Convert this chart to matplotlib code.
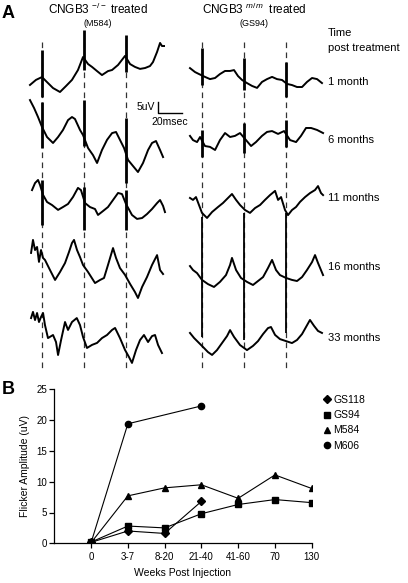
"""
Flicker ERG figure: A - raw traces per time point for two treated animals,
B - flicker amplitude vs weeks post injection.
"""

import matplotlib.pyplot as plt
from matplotlib.lines import Line2D

plt.rcParams["font.family"] = ["Liberation Sans", "DejaVu Sans"]
plt.rcParams["mathtext.fontset"] = "custom"
plt.rcParams["mathtext.rm"] = "Liberation Sans"
plt.rcParams["mathtext.it"] = "Liberation Sans:italic"


# ---------- Panel A data: time (ms) / amplitude (uV, relative to own baseline) ----------
FLICKER_MS = [10, 45, 80]
ROW_LABELS = ["1 month", "6 months", "11 months", "16 months", "33 months"]

# CNGB3 -/- (M584)
L1_T = [0.4, 5.4, 10.4, 14.6, 19.6, 25.4, 30.4, 35.4, 40.4, 44.6, 48.8, 52.1, 56.3, 60.4,
        65.4, 68.8, 73.8, 79.6, 83.8, 87.9, 92.1, 96.3, 100.4, 102.9, 106.3, 108.8, 110.4, 112.1]
L1_V = [-6.8, -4.5, -3.2, -5.5, -8.2, -10.0, -7.3, -4.5, 0.0, 5.9, 2.7, 1.4, -0.5, -2.3,
        -0.5, 0.0, 2.3, 6.4, 2.7, 1.4, 0.5, 0.9, 1.8, 3.6, 8.2, 12.3, 10.9, 10.9]
L6_T = [0.4, 3.8, 7.1, 10.4, 14.6, 19.6, 23.8, 27.9, 32.1, 35.4, 37.9, 42.1, 44.6, 48.8,
        52.9, 56.3, 60.4, 64.6, 68.8, 72.1, 75.4, 78.8, 82.1, 86.3, 90.4, 94.6, 98.8, 102.1,
        105.4, 108.8, 111.3]
L6_V = [13.6, 10.0, 5.9, 1.4, -3.2, -5.9, -3.2, 0.0, 4.5, 5.9, 5.0, 0.0, -2.3, -8.2,
        -11.4, -15.0, -9.1, -4.5, -1.4, -0.9, -4.5, -8.2, -13.6, -16.4, -19.1, -15.0, -9.1, -5.9,
        -5.0, -9.1, -12.3]
L11_T = [2.1, 4.6, 7.1, 8.8, 11.3, 14.6, 18.8, 23.8, 27.9, 32.1, 36.3, 40.4, 42.9, 46.3,
         50.4, 54.6, 57.1, 61.3, 65.4, 69.6, 73.8, 77.1, 80.4, 85.4, 89.6, 93.8, 97.9, 102.1,
         106.3, 108.8, 111.3, 112.9]
L11_V = [4.5, 7.7, 9.1, 6.8, 2.3, -0.9, -2.3, -4.5, -3.2, -1.8, 1.4, 5.5, 4.5, -1.4,
         -3.2, -4.1, -6.8, -5.0, -3.2, 0.0, 3.2, 2.7, -1.8, -6.8, -8.6, -8.2, -6.4, -4.1,
         -1.4, 0.0, -2.7, -5.5]
L16_T = [1.3, 2.9, 4.6, 6.3, 7.9, 9.6, 11.3, 12.9, 17.1, 21.3, 25.4, 29.6, 32.9, 35.4,
         37.1, 39.6, 42.1, 44.6, 48.8, 54.6, 58.8, 62.1, 65.4, 69.6, 72.1, 75.4, 79.6, 83.8,
         87.9, 90.4, 93.8, 97.9, 102.1, 106.3, 108.8, 111.3]
L16_V = [5.5, 11.4, 6.8, 8.2, 1.4, 6.8, 3.2, 2.3, -2.3, -6.8, -3.2, 0.9, 5.9, 10.0,
         11.4, 6.8, 3.6, 0.0, -3.2, -8.2, -6.8, -5.9, 0.0, 7.7, 3.2, -1.4, -4.5, -8.6,
         -12.3, -15.0, -10.0, -5.5, 0.0, 4.5, -2.3, -4.1]
L33_T = [1.3, 2.9, 4.6, 6.3, 7.9, 9.6, 11.3, 12.9, 15.4, 19.6, 22.1, 23.8, 26.3, 29.6,
         32.1, 35.4, 39.4, 42.1, 44.6, 47.9, 52.1, 56.3, 60.4, 64.6, 68.8, 71.3, 75.4, 79.6,
         82.9, 85.4, 88.8, 92.1, 95.4, 98.8, 102.1, 104.6, 107.1, 110.4]
L33_V = [7.7, 10.5, 6.8, 10.0, 5.9, 8.2, 10.0, 4.5, -1.4, 0.0, -3.2, -9.1, -2.3, 5.9,
         2.3, 5.9, 7.7, 4.5, -0.9, -5.9, -4.5, -3.6, -1.4, 0.0, 2.3, 3.2, -1.4, -6.8,
         -10.0, -12.7, -6.8, -2.3, 0.0, -3.2, -0.5, 0.0, -4.5, -8.2]

# CNGB3 m/m (GS94)
R1_T = [0.4, 4.6, 7.9, 12.9, 17.1, 21.3, 25.4, 29.6, 33.8, 37.1, 40.4, 43.8, 47.9, 52.1,
        56.3, 60.4, 64.6, 68.8, 72.9, 77.1, 81.3, 85.4, 89.6, 93.8, 97.9, 102.1, 106.3, 110.4]
R1_V = [4.5, 2.7, 1.8, 0.5, -0.5, 0.0, 1.8, 3.2, 3.2, 3.6, 0.9, -0.9, -2.3, -3.6,
        -4.5, -1.8, -0.5, 0.5, -0.5, -0.9, -2.7, -3.2, -4.1, -4.1, -1.8, 0.0, -0.5, -2.3]
R6_T = [0.4, 2.9, 6.3, 8.8, 12.9, 17.1, 21.3, 25.4, 29.6, 33.8, 37.9, 42.1, 47.1, 51.3,
        55.4, 60.4, 64.6, 68.8, 73.8, 78.8, 83.8, 88.8, 92.9, 97.1, 101.3, 106.3, 111.3]
R6_V = [0.5, -1.4, -2.3, 0.0, -4.1, -4.5, -5.9, -1.4, 1.8, 0.0, 0.5, 1.8, -1.4, -4.1,
        -2.3, 0.5, 2.3, 2.7, 1.4, 2.7, -1.4, -2.3, 0.5, 4.1, 4.1, 3.2, 1.8]
R11_T = [0.4, 2.9, 5.4, 7.9, 10.4, 14.6, 18.8, 23.8, 27.9, 32.1, 35.4, 38.8, 42.1, 46.3,
         50.4, 54.6, 58.8, 62.9, 67.1, 71.3, 73.8, 76.3, 79.6, 82.1, 85.4, 88.8, 92.1, 96.3,
         100.4, 104.6, 107.1, 109.6, 111.3]
R11_V = [2.3, 1.4, 2.7, -0.9, -4.5, -6.8, -4.1, -1.8, 0.0, 2.3, 4.1, 1.4, -0.9, -3.2,
         -4.5, -2.3, -0.9, 1.4, 3.6, 5.5, 1.4, 2.7, -3.2, -5.5, -3.2, -1.8, 0.5, 2.7,
         4.5, 5.9, 7.7, 4.5, 3.6]
R16_T = [0.4, 2.9, 6.3, 10.4, 15.4, 20.4, 25.4, 30.4, 33.8, 35.4, 38.8, 42.9, 47.9, 52.9,
         57.1, 61.3, 65.4, 68.8, 72.1, 75.4, 80.4, 85.4, 89.6, 93.8, 97.9, 102.1, 104.6, 107.1,
         111.3]
R16_V = [2.7, 0.9, -0.5, -3.6, -5.5, -6.8, -4.5, -1.4, 3.2, 6.4, 0.9, -2.7, -4.5, -5.9,
         -4.1, -2.3, 1.8, 5.5, 0.9, -1.4, -2.7, -3.6, -4.1, -2.3, 0.9, 4.5, 7.7, 4.1,
         -1.4]
R33_T = [0.4, 3.8, 7.1, 11.3, 15.4, 18.8, 22.9, 27.1, 31.3, 33.8, 37.1, 42.1, 47.9, 52.9,
         57.1, 61.3, 65.4, 67.9, 71.3, 75.4, 80.4, 85.4, 89.6, 93.8, 97.1, 100.4, 103.8, 107.1,
         110.4]
R33_V = [2.3, 0.0, -1.8, -4.1, -6.4, -7.7, -5.5, -2.3, 0.9, 3.6, 0.5, -3.2, -5.5, -3.6,
         -1.4, 1.8, 4.5, 5.0, 1.4, -0.5, -1.4, -2.3, -0.9, 1.8, 5.0, 8.2, 5.5, 3.2,
         2.3]

# flicker response spikes (top, bottom) in uV at each flicker time
L_SPIKE_TOP = [[9.1, 18.2, 15.9], [12.7, 13.6, 5.5], [9.1, 5.9, 4.5], [0, 0, 0], [0, 0, 0]]
L_SPIKE_BOT = [[-12.3, 0.0, -0.9], [-8.2, -7.3, -24.1], [-11.4, -13.6, -13.6], [0, 0, 0], [0, 0, 0]]
R_SPIKE_TOP = [[13.6, 9.1, 7.3], [3.2, 6.4, 7.7], [0, 0, 0], [25.0, 26.8, 26.8], [0, 0, 0]]
R_SPIKE_BOT = [[-3.2, -5.5, -8.6], [-9.1, -7.3, -4.5], [0, 0, 0], [-29.5, -30.9, -27.7], [0, 0, 0]]

SCALE_UV = 5
SCALE_MS = 20

# ---------- Panel B data ----------
WEEKS = ["0", "3-7", "8-20", "21-40", "41-60", "70", "130"]
GS118_X = [0, 1, 2, 3]
GS118 = [0.15, 2.0, 1.6, 6.8]
GS94_X = [0, 1, 2, 3, 4, 5, 6]
GS94 = [0.2, 2.8, 2.5, 4.8, 6.3, 7.1, 6.6]
M584_X = [0, 1, 2, 3, 4, 5, 6]
M584 = [0.1, 7.7, 9.0, 9.5, 7.3, 11.1, 8.9]
M606_X = [0, 1, 3]
M606 = [0.1, 19.4, 22.3]


# ---------- Layout (pixels of a 408x583 figure) ----------
W, H = 408, 583
PX_MS = 1.2      # horizontal pixels per ms
PX_UV = 2.2      # vertical pixels per uV
A_H = 375        # panel A axes height in px


def ms(x_px):
    return x_px / PX_MS


def uv(y_px):
    return -y_px / PX_UV


def fx(x_px):
    return x_px / W


def fy(y_px):
    return 1 - y_px / H


COL_X0 = [ms(29.5), ms(189.5)]
L_BASE = [uv(y) for y in (70, 130, 200, 265, 335)]
R_BASE = [uv(y) for y in (78, 137, 203, 272, 338)]
LABEL_Y = [82, 140, 198, 267, 338]

fig = plt.figure(figsize=(W / 100, H / 100), dpi=100)

# ---------- Panel A ----------
ax = fig.add_axes([0, 1 - A_H / H, 1, A_H / H])
ax.set_xlim(0, ms(W))
ax.set_ylim(uv(A_H), 0)
ax.axis("off")

left = [(L1_T, L1_V), (L6_T, L6_V), (L11_T, L11_V), (L16_T, L16_V), (L33_T, L33_V)]
right = [(R1_T, R1_V), (R6_T, R6_V), (R11_T, R11_V), (R16_T, R16_V), (R33_T, R33_V)]

for col, traces, bases, tops, bots in [(0, left, L_BASE, L_SPIKE_TOP, L_SPIKE_BOT),
                                       (1, right, R_BASE, R_SPIKE_TOP, R_SPIKE_BOT)]:
    x0 = COL_X0[col]
    # stimulus markers
    for t in FLICKER_MS:
        ax.plot([x0 + t, x0 + t], [uv(42), uv(370)], color="#333333", lw=0.9,
                dashes=(4.5, 3.5), zorder=1)
    for i, (t, v) in enumerate(traces):
        ax.plot([x0 + a for a in t], [bases[i] + b for b in v], color="black",
                lw=1.4, zorder=3)
        for k, ft in enumerate(FLICKER_MS):
            if tops[i][k] == 0 and bots[i][k] == 0:
                continue
            lw = 1.3 if (col == 1 and i == 3) else 2.0
            ax.plot([x0 + ft, x0 + ft], [bases[i] + bots[i][k], bases[i] + tops[i][k]],
                    color="black", lw=lw, solid_capstyle="butt", zorder=3)

# scale bar
sx, sy = ms(158), uv(113)
ax.plot([sx, sx, sx + SCALE_MS], [sy + SCALE_UV, sy, sy], color="black", lw=1.0)
fig.text(fx(155), fy(107), f"{SCALE_UV}uV", ha="right", va="center", fontsize=7.5)
fig.text(fx(170), fy(122), f"{SCALE_MS}msec", ha="center", va="center", fontsize=7.5)

fig.text(fx(2), fy(14), "A", fontsize=13, fontweight="bold", ha="left", va="center")
fig.text(fx(98), fy(9), r"CNGB3 $^{\mathrm{-/-}}$ treated", ha="center", va="center",
         fontsize=8.5)
fig.text(fx(98), fy(23), "(M584)", ha="center", va="center", fontsize=6.5)
fig.text(fx(254), fy(9), r"CNGB3 $^{m/m}$  treated", ha="center", va="center",
         fontsize=8.5)
fig.text(fx(254), fy(23), "(GS94)", ha="center", va="center", fontsize=6.5)
fig.text(fx(328), fy(33), "Time", ha="left", va="center", fontsize=8)
fig.text(fx(328), fy(48), "post treatment", ha="left", va="center", fontsize=8)
for lab, y in zip(ROW_LABELS, LABEL_Y):
    fig.text(fx(328), fy(y), lab, ha="left", va="center", fontsize=8)

# ---------- Panel B ----------
axb = fig.add_axes([fx(54.3), fy(543.3), (311.7 - 54.3) / W, (543.3 - 389.3) / H])
axb.plot(GS118_X, GS118, color="black", lw=0.8, marker="D", ms=3.8, label="GS118")
axb.plot(GS94_X, GS94, color="black", lw=0.8, marker="s", ms=4.5, label="GS94")
axb.plot(M584_X, M584, color="black", lw=0.8, marker="^", ms=5, label="M584")
axb.plot(M606_X, M606, color="black", lw=0.8, marker="o", ms=4.5, label="M606")

axb.set_xlim(-1, 6)
axb.set_ylim(0, 25)
axb.set_xticks(range(len(WEEKS)))
axb.set_xticklabels(WEEKS)
axb.set_yticks([0, 5, 10, 15, 20, 25])
axb.spines["top"].set_visible(False)
axb.spines["right"].set_visible(False)
for s in ("left", "bottom"):
    axb.spines[s].set_linewidth(0.9)
axb.tick_params(axis="both", direction="out", length=3.6, width=0.9, labelsize=7)
axb.tick_params(axis="y", pad=1.5)
axb.tick_params(axis="x", pad=3)
axb.set_ylabel("Flicker Amplitude (uV)", fontsize=7.5, labelpad=5)
axb.set_xlabel("Weeks Post Injection", fontsize=7.5, labelpad=4)

handles = [Line2D([], [], color="black", ls="none", marker=m, ms=s)
           for m, s in [("D", 3.8), ("s", 4.5), ("^", 5), ("o", 4.5)]]
fig.legend(handles, ["GS118", "GS94", "M584", "M606"], loc="upper left",
           bbox_to_anchor=(fx(324), fy(395)), frameon=False, fontsize=7.5,
           handlelength=0.6, handletextpad=0.3, labelspacing=0.5, borderpad=0,
           borderaxespad=0)

fig.text(fx(2), fy(389), "B", fontsize=13, fontweight="bold", ha="left", va="center")

fig.savefig("out.png", dpi=100)
